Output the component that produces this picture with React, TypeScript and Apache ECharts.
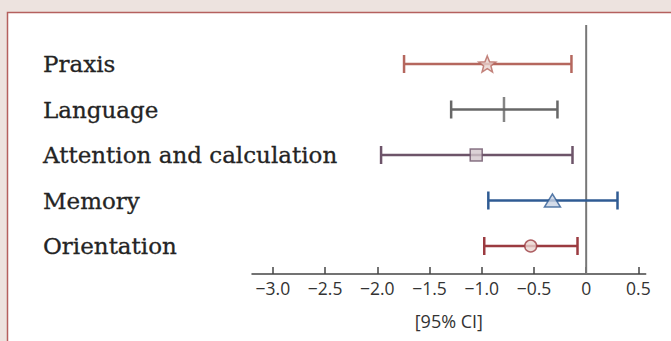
import React, { useEffect, useRef } from "react";
import * as echarts from "echarts";

const categories = ["Praxis", "Language", "Attention and calculation", "Memory", "Orientation"];
const lows = [-1.744, -1.293, -1.964, -0.937, -0.976];
const highs = [-0.141, -0.275, -0.131, 0.3, -0.083];
const means = [-0.947, -0.787, -1.053, -0.323, -0.531];
const tickValues = [-3, -2.5, -2, -1.5, -1, -0.5, 0, 0.5];
const lineColors = ["#b5675e", "#676767", "#6d5469", "#2f5b93", "#9b3b40"];
const fillColors = ["#e8d2ce", "#676767", "#d3c7cc", "#c9d3e3", "#ead5cf"];

const STAR =
  "path://M0,-10 L2.6,-3.4 L9.51,-3.09 L4.1,1.3 L5.88,8.09 L0,4.3 L-5.88,8.09 L-4.1,1.3 L-9.51,-3.09 L-2.6,-3.4Z";
const symbols = [STAR, "rect", "rect", "triangle", "circle"];
const symbolSizes: any[] = [17, [2.5, 25], 12, [16, 13], 12];

function fmt(v: number) {
  if (Math.abs(v) < 1e-9) return "0";
  if (v < 0) return "\u2212" + Math.abs(v).toFixed(1);
  return v.toFixed(1);
}

export default function App() {
  const ref = useRef<HTMLDivElement>(null);
  useEffect(() => {
    if (!ref.current) return;
    const chart = echarts.init(ref.current, undefined, { renderer: "svg" });
    const barData = categories.map((c, i) => [lows[i], highs[i], i]);
    const markerData = categories.map((c, i) => ({
      value: [means[i], i],
      symbol: symbols[i],
      symbolSize: symbolSizes[i],
      symbolKeepAspect: true,
      itemStyle: {
        color: fillColors[i],
        borderColor: lineColors[i],
        borderWidth: i === 1 ? 0 : 1.5,
      },
    }));
    chart.setOption({
      animation: false,
      backgroundColor: "#ede3df",
      graphic: [
        {
          type: "rect",
          shape: { x: 7.5, y: 12.5, width: 700, height: 400 },
          style: { fill: "#ffffff", stroke: "#b5605e", lineWidth: 1.5 },
          z: -10,
          silent: true,
        },
      ],
      grid: [
        { left: 252, right: 25.3, top: 41.25, bottom: 72.25 },
        { left: 252, right: 25.3, top: 25, bottom: 67 },
      ],
      xAxis: [
        {
          gridIndex: 0,
          type: "value",
          min: -3.2,
          max: 0.57,
          show: false,
          splitLine: { show: false },
        },
        {
          gridIndex: 1,
          type: "value",
          min: -3.2,
          max: 0.57,
          splitLine: { show: false },
          axisLine: { show: true, lineStyle: { color: "#444", width: 1.5 } },
          axisTick: {
            show: true,
            inside: true,
            length: 7,
            customValues: tickValues,
            lineStyle: { color: "#444", width: 1.5 },
          },
          axisLabel: {
            customValues: tickValues,
            formatter: (v: number) => fmt(v),
            fontFamily: "Open Sans",
            fontSize: 17.5,
            color: "#333",
            margin: 5,
          },
          name: "[95% CI]",
          nameLocation: "middle",
          nameGap: 38,
          nameTextStyle: { fontFamily: "Open Sans", fontSize: 18, color: "#333" },
        },
      ],
      yAxis: [
        {
          gridIndex: 0,
          type: "category",
          inverse: true,
          data: categories,
          axisLine: { show: false },
          axisTick: { show: false },
          splitLine: { show: false },
          axisLabel: {
            align: "left",
            margin: 209,
            fontFamily: "DejaVu Serif",
            fontSize: 23,
            color: "#242424",
            textBorderColor: "#242424",
            textBorderWidth: 0.3,
          },
        },
        {
          gridIndex: 1,
          type: "value",
          min: 0,
          max: 1,
          show: false,
          splitLine: { show: false },
        },
      ],
      series: [
        {
          type: "line",
          xAxisIndex: 1,
          yAxisIndex: 1,
          data: [
            [0, 0],
            [0, 1],
          ],
          symbol: "none",
          lineStyle: { color: "#777", width: 2 },
          z: 1,
          silent: true,
        },
        {
          type: "custom",
          xAxisIndex: 0,
          yAxisIndex: 0,
          z: 2,
          data: barData,
          renderItem: (params: any, api: any) => {
            const lo = api.coord([api.value(0), api.value(2)]);
            const hi = api.coord([api.value(1), api.value(2)]);
            const idx = params.dataIndex;
            const color = lineColors[idx];
            const cap = 9;
            const style = { stroke: color, lineWidth: 2.5 };
            return {
              type: "group",
              children: [
                { type: "line", shape: { x1: lo[0], y1: lo[1], x2: hi[0], y2: hi[1] }, style },
                { type: "line", shape: { x1: lo[0], y1: lo[1] - cap, x2: lo[0], y2: lo[1] + cap }, style },
                { type: "line", shape: { x1: hi[0], y1: hi[1] - cap, x2: hi[0], y2: hi[1] + cap }, style },
              ],
            };
          },
        },
        {
          type: "scatter",
          xAxisIndex: 0,
          yAxisIndex: 0,
          z: 3,
          data: markerData,
        },
      ],
    });
    return () => chart.dispose();
  }, []);
  return (
    <div
      ref={ref}
      style={{ position: "absolute", left: 0, top: 0, width: 671, height: 341 }}
    />
  );
}
